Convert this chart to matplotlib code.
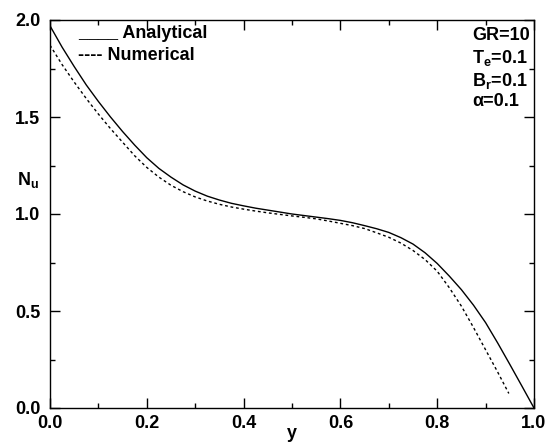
import matplotlib
matplotlib.use("Agg")
import matplotlib.pyplot as plt
from matplotlib.ticker import MultipleLocator

plt.rcParams['font.family'] = ['Liberation Sans', 'DejaVu Sans']
plt.rcParams['font.weight'] = 'bold'
plt.rcParams['mathtext.fontset'] = 'custom'
plt.rcParams['mathtext.rm'] = 'Liberation Sans:bold'
plt.rcParams['mathtext.it'] = 'Liberation Sans:bold'
plt.rcParams['mathtext.bf'] = 'Liberation Sans:bold'

y_an = [0.0, 0.025, 0.05, 0.075, 0.1, 0.125, 0.15, 0.175, 0.2, 0.225,
        0.25, 0.275, 0.3, 0.325, 0.35, 0.375, 0.4, 0.425, 0.45, 0.475,
        0.5, 0.525, 0.55, 0.575, 0.6, 0.625, 0.65, 0.675, 0.7, 0.725,
        0.75, 0.775, 0.8, 0.825, 0.85, 0.875, 0.9, 0.925, 0.95, 0.975, 1.0]
nu_an = [1.97, 1.86, 1.76, 1.665, 1.58, 1.50, 1.425, 1.355, 1.29, 1.235,
         1.19, 1.15, 1.118, 1.092, 1.072, 1.055, 1.042, 1.03, 1.02, 1.01,
         1.0, 0.992, 0.984, 0.976, 0.967, 0.955, 0.94, 0.924, 0.905, 0.878,
         0.845, 0.80, 0.745, 0.68, 0.61, 0.53, 0.44, 0.335, 0.225, 0.113, 0.0]

y_num = [0.0, 0.025, 0.05, 0.075, 0.1, 0.125, 0.15, 0.175, 0.2, 0.225,
         0.25, 0.275, 0.3, 0.325, 0.35, 0.375, 0.4, 0.425, 0.45, 0.475,
         0.5, 0.525, 0.55, 0.575, 0.6, 0.625, 0.65, 0.675, 0.7, 0.725,
         0.75, 0.775, 0.8, 0.825, 0.85, 0.875, 0.9, 0.925, 0.948]
nu_num = [1.87, 1.77, 1.68, 1.595, 1.515, 1.44, 1.37, 1.30, 1.24, 1.19,
          1.148, 1.115, 1.088, 1.067, 1.05, 1.036, 1.025, 1.015, 1.006, 0.998,
          0.99, 0.983, 0.975, 0.964, 0.952, 0.94, 0.925, 0.903, 0.88, 0.85,
          0.812, 0.765, 0.705, 0.62, 0.525, 0.415, 0.30, 0.185, 0.075]

xticks = [0.0, 0.2, 0.4, 0.6, 0.8, 1.0]
yticks = [0.0, 0.5, 1.0, 1.5, 2.0]
params = ["GR=10", r"T$_e$=0.1", r"B$_r$=0.1", "α=0.1"]

fig = plt.figure(figsize=(5.51, 4.42), dpi=100)
ax = fig.add_axes([50/551, 34/442, 484/551, 388/442])

ax.plot(y_an, nu_an, color='black', lw=1.0)
ax.plot(y_num, nu_num, color='black', lw=1.0, linestyle=(0, (2, 2)))

ax.set_xlim(0, 1.0)
ax.set_ylim(0, 2.0)
ax.set_xticks(xticks)
ax.set_yticks(yticks)
ax.set_xticklabels([f"{v:.1f}" for v in xticks])
ax.set_yticklabels([f"{v:.1f}" for v in yticks])
ax.xaxis.set_minor_locator(MultipleLocator(0.1))
ax.yaxis.set_minor_locator(MultipleLocator(0.25))
ax.tick_params(which='both', direction='in', top=True, right=True, width=1.0,
               labelsize=13)
ax.tick_params(which='major', length=7)
ax.tick_params(axis='x', which='major', pad=5)
ax.tick_params(axis='y', which='major', pad=7)
ax.tick_params(which='minor', length=3.5)
for s in ax.spines.values():
    s.set_linewidth(1.0)

ax.set_xlabel("y", fontsize=13, fontweight='bold', labelpad=-5)
fig.text(28/551, 1 - 180/442, r"N$_u$", fontsize=13, ha='center', va='center')

fig.text(78/551, 1 - 33/442, "____ Analytical", fontsize=13, ha='left', va='center')
fig.text(78/551, 1 - 56/442, "---- Numerical", fontsize=13, ha='left', va='center')

ys = [35, 58, 81, 101]
for t, yy in zip(params, ys):
    fig.text(472/551, 1 - yy/442, t, fontsize=13, ha='left', va='center')

fig.savefig("out.png", dpi=100)
